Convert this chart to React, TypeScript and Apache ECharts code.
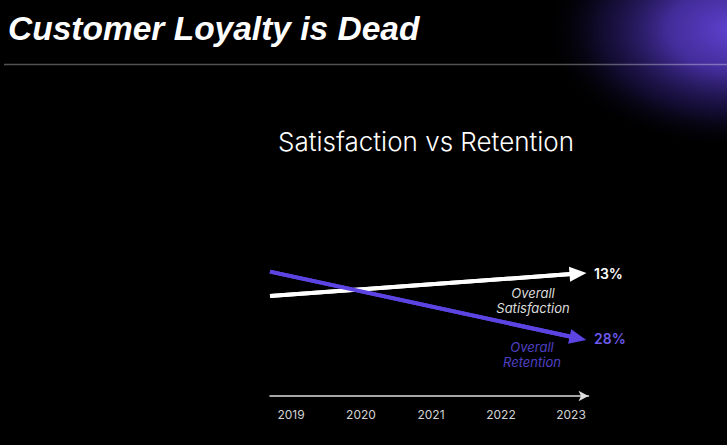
import React, { useEffect, useRef } from "react";
import * as echarts from "echarts";

const years = [2019, 2020, 2021, 2022, 2023];
const satisfactionLine = [
  [2018.7, 66.7],
  [2023.1, 81.6],
];
const retentionLine = [
  [2018.7, 82.9],
  [2023.1, 38.5],
];
const endLabels = ["13%", "28%"];
const seriesNames = ["Overall\nSatisfaction", "Overall\nRetention"];

const WHITE = "#ffffff";
const PURPLE = "#5b44e2";

export default function App() {
  const ref = useRef<HTMLDivElement>(null);
  useEffect(() => {
    document.body.style.margin = "0";
    document.body.style.background = "#000";
    const chart = echarts.init(ref.current!, undefined, { renderer: "svg" });
    const mk = (data: number[][], color: string, label: string) => ({
      type: "line",
      data,
      symbol: "none",
      lineStyle: { color, width: 4 },
      itemStyle: { color },
      z: color === WHITE ? 3 : 4,
      endLabel: {
        show: true,
        formatter: label,
        color: color === WHITE ? "#fff" : "#6d59ee",
        fontSize: 14,
        fontWeight: 600,
        fontFamily: "Inter",
        distance: 16,
      },
      markLine: {
        silent: true,
        symbol: ["none", "triangle"],
        symbolSize: [15, 17],
        lineStyle: { color, width: 4, type: "solid" },
        label: { show: false },
        data: [[{ coord: data[0] }, { coord: data[1] }]],
      },
    });
    chart.setOption({
      animation: false,
      backgroundColor: "#000",
      grid: { left: 270, right: 138.5, top: 246, bottom: 49 },
      title: {
        text: "Satisfaction vs Retention",
        left: 273,
        top: 123,
        textStyle: {
          color: "#fff",
          fontSize: 26,
          fontWeight: 300,
          fontFamily: "Inter",
        },
      },
      xAxis: {
        type: "value",
        min: 2018.7,
        max: 2023.25,
        splitLine: { show: false },
        axisTick: { show: false },
        axisLine: {
          show: true,
          lineStyle: { color: "#dddddd", width: 1.5 },
          symbol: ["none", "arrow"],
          symbolSize: [8, 10],
        },
        axisLabel: {
          customValues: years,
          formatter: (v: number) => String(v),
          color: "#d4d4d4",
          fontSize: 12,
          fontFamily: "Inter",
          margin: 12,
        },
      },
      yAxis: { type: "value", min: 0, max: 100, show: false },
      series: [
        mk(satisfactionLine, WHITE, endLabels[0]),
        mk(retentionLine, PURPLE, endLabels[1]),
      ],
      graphic: [
        {
          type: "rect",
          x: 735,
          y: 30,
          scaleX: 1.6,
          z: -10,
          shape: { x: -120, y: -120, width: 240, height: 240 },
          style: {
            fill: new echarts.graphic.RadialGradient(0.5, 0.5, 0.5, [
              { offset: 0, color: "rgba(96,66,210,1)" },
              { offset: 0.35, color: "rgba(78,52,180,0.85)" },
              { offset: 0.7, color: "rgba(40,26,105,0.45)" },
              { offset: 1, color: "rgba(0,0,0,0)" },
            ]),
          },
        },
        {
          type: "line",
          shape: { x1: 4, y1: 64.5, x2: 727, y2: 64.5 },
          style: { stroke: "rgba(255,255,255,0.32)", lineWidth: 1.5 },
        },
        {
          type: "text",
          x: 8,
          y: 28,
          style: {
            text: "Customer Loyalty is Dead",
            fill: "#fff",
            font: "italic bold 33.5px 'Liberation Sans'",
            textVerticalAlign: "middle",
          },
        },
        {
          type: "text",
          x: 533,
          y: 300,
          style: {
            text: seriesNames[0],
            fill: "#dcdcdc",
            font: "italic 13px Inter",
            textAlign: "center",
            textVerticalAlign: "middle",
            lineHeight: 15,
          },
        },
        {
          type: "text",
          x: 532,
          y: 354,
          style: {
            text: seriesNames[1],
            fill: "#4f40c4",
            font: "italic 13px Inter",
            textAlign: "center",
            textVerticalAlign: "middle",
            lineHeight: 15,
          },
        },
      ],
    });
    return () => chart.dispose();
  }, []);
  return (
    <div
      ref={ref}
      style={{ position: "fixed", left: 0, top: 0, width: 727, height: 445 }}
    />
  );
}
